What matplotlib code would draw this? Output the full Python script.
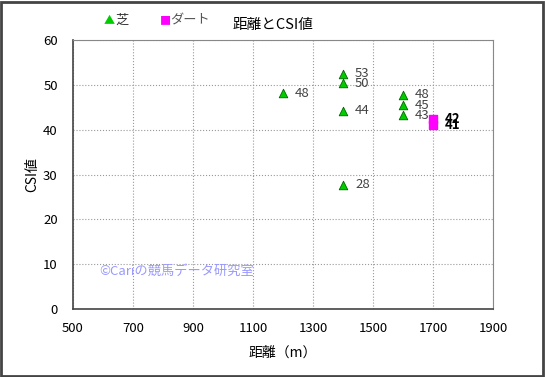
import matplotlib.pyplot as plt
from matplotlib.patches import Rectangle

plt.rcParams['font.family'] = ['Noto Sans CJK JP', 'DejaVu Sans']

# 芝
shiba_x = [1200, 1400, 1400, 1400, 1400, 1600, 1600, 1600]
shiba_y = [48.1, 52.5, 50.3, 44.2, 27.7, 47.8, 45.4, 43.2]
shiba_lbl = ['48', '53', '50', '44', '28', '48', '45', '43']
# ダート
dirt_x = [1700, 1700]
dirt_y = [42.3, 41.0]
dirt_lbl = ['42', '41']

fig = plt.figure(figsize=(5.45, 3.77), dpi=100)
ax = fig.add_axes([0.134, 0.180, 0.771, 0.714])

ax.scatter(shiba_x, shiba_y, marker='^', s=38, color='#00cc00', edgecolors='#006600', linewidths=0.6, zorder=3)
ax.scatter(dirt_x, dirt_y, marker='s', s=32, color='#ff00ff', edgecolors='#ff00ff', zorder=3)
for x, y, t in zip(shiba_x, shiba_y, shiba_lbl):
    ax.text(x + 40, y, t, fontsize=9.5, color='#444444', va='center', ha='left')
for x, y, t in zip(dirt_x, dirt_y, dirt_lbl):
    ax.text(x + 40, y, t, fontsize=9.5, color='black', va='center', ha='left', fontweight='bold')

ax.set_xlim(500, 1900)
ax.set_ylim(0, 60)
ax.set_xticks(range(500, 1901, 200))
ax.set_yticks(range(0, 61, 10))
ax.tick_params(length=0, labelsize=9.5)
ax.tick_params(axis='x', pad=9)
ax.tick_params(axis='y', pad=11)
ax.grid(True, color='#999999', linestyle=':', linewidth=0.8)
for s in ax.spines.values():
    s.set_color('#888888')
ax.spines['left'].set_color('#444444')
ax.spines['bottom'].set_color('#444444')
ax.spines['left'].set_linewidth(1.2)
ax.spines['bottom'].set_linewidth(1.2)

ax.set_xlabel('距離（m）', fontsize=10, labelpad=8)
ax.set_ylabel('CSI値', fontsize=10, labelpad=3)

ax.text(0.063, 0.14, '©Cariの競馬データ研究室', transform=ax.transAxes,
        fontsize=9.5, color='#9999ff', va='center')

# legend / title outside axes
fig.text(0.19, 0.945, '▲', color='#00cc00', fontsize=8, va='center', ha='left')
fig.text(0.212, 0.945, '芝', fontsize=9.5, color='#333333', va='center', ha='left')
fig.text(0.293, 0.945, '■', color='#ff00ff', fontsize=8, va='center', ha='left')
fig.text(0.313, 0.945, 'ダート', fontsize=9.5, color='#555555', va='center', ha='left')
fig.text(0.5, 0.935, '距離とCSI値', fontsize=10.5, va='center', ha='center')

fig.patches.append(Rectangle((0.002, 0.003), 0.995, 0.993, transform=fig.transFigure,
                             fill=False, edgecolor='#444444', linewidth=2))

fig.savefig('out.png', dpi=100)
